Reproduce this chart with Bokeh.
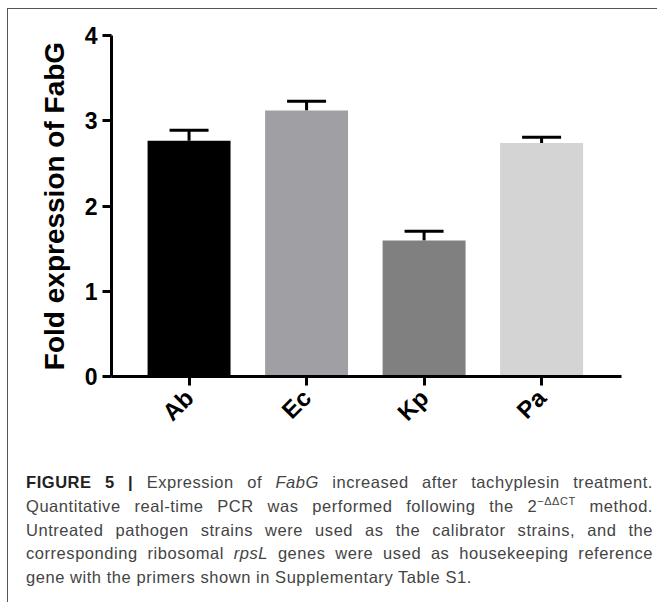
import math
from bokeh.plotting import figure
from bokeh.models import Range1d, FixedTicker, Whisker, ColumnDataSource, TeeHead, Div
from bokeh.layouts import column
from bokeh.embed import file_html
from bokeh.resources import INLINE

# ---- data ----
strains = ["Ab", "Ec", "Kp", "Pa"]
fold_expression = [2.765, 3.12, 1.595, 2.74]
sem = [0.125, 0.11, 0.11, 0.065]
bar_colors = ["#000000", "#a0a0a4", "#808080", "#d4d4d4"]
y_ticks = [0, 1, 2, 3, 4]

xs = list(range(len(strains)))
src = ColumnDataSource(dict(
    x=xs,
    top=fold_expression,
    upper=[v + e for v, e in zip(fold_expression, sem)],
    color=bar_colors,
))

p = figure(width=648, height=440, x_range=Range1d(-0.66, 3.68), y_range=Range1d(0, 4),
           output_backend="svg", toolbar_location=None,
           min_border_left=103, min_border_right=35, min_border_top=26, min_border_bottom=73)
p.outline_line_color = None
p.xgrid.visible = False
p.ygrid.visible = False

p.vbar(x="x", top="top", width=0.706, bottom=0, color="color", line_color=None, source=src)

wh = Whisker(base="x", lower="top", upper="upper", source=src, line_width=3, line_color="black",
             upper_head=TeeHead(size=39, line_width=3, line_color="black"), lower_head=None)
p.add_layout(wh)

for ax in (p.xaxis[0], p.yaxis[0]):
    ax.axis_line_width = 3
    ax.axis_line_color = "black"
    ax.major_tick_line_width = 3
    ax.major_tick_line_color = "black"
    ax.major_tick_in = 0
    ax.major_tick_out = 9
    ax.minor_tick_line_color = None
    ax.major_label_text_font = "Liberation Sans"
    ax.major_label_text_font_style = "bold"
    ax.major_label_text_color = "black"

p.xaxis.ticker = FixedTicker(ticks=xs)
p.xaxis.major_label_overrides = {i: s for i, s in zip(xs, strains)}
p.xaxis.major_label_orientation = math.pi / 4
p.xaxis.major_label_text_font_size = "24px"
p.xaxis.major_label_standoff = 8

p.yaxis.ticker = FixedTicker(ticks=y_ticks)
p.yaxis.major_label_text_font_size = "23px"
p.yaxis.major_label_standoff = 5
p.yaxis.axis_label = "Fold expression of FabG"
p.yaxis.axis_label_text_font = "Liberation Sans"
p.yaxis.axis_label_text_font_style = "bold"
p.yaxis.axis_label_text_font_size = "28px"
p.yaxis.axis_label_text_color = "black"
p.yaxis.axis_label_standoff = 12

JL = 'style="width:627px;text-align:justify;text-align-last:justify;white-space:nowrap;"'
caption_html = (
    '<div style="font-family:\'Liberation Sans\',Arial,sans-serif;'
    'font-size:16.5px;letter-spacing:0.55px;line-height:23.8px;color:#444;'
    'padding-left:13px;padding-top:17px;">'
    f'<div {JL}><span style="font-weight:700;color:#222;">FIGURE 5 |</span> Expression of <i>FabG</i> '
    'increased after tachyplesin treatment.</div>'
    f'<div {JL}>Quantitative real-time PCR was performed following the 2'
    '<sup style="font-size:11px;line-height:0;vertical-align:7px;">\u2212\u0394\u0394CT</sup> method.</div>'
    f'<div {JL}>Untreated pathogen strains were used as the calibrator strains, and the</div>'
    f'<div {JL}>corresponding ribosomal <i>rpsL</i> genes were used as housekeeping reference</div>'
    '<div style="white-space:nowrap;">gene with the primers shown in Supplementary Table S1.</div>'
    '</div>'
)
cap = Div(text=caption_html, width=648, height=144)

layout = column(p, cap, spacing=0,
                styles={"margin-left": "7px", "margin-top": "8px",
                        "border-top": "1px solid #555", "border-left": "1px solid #555"})

open("out.html", "w").write(file_html(layout, INLINE))
